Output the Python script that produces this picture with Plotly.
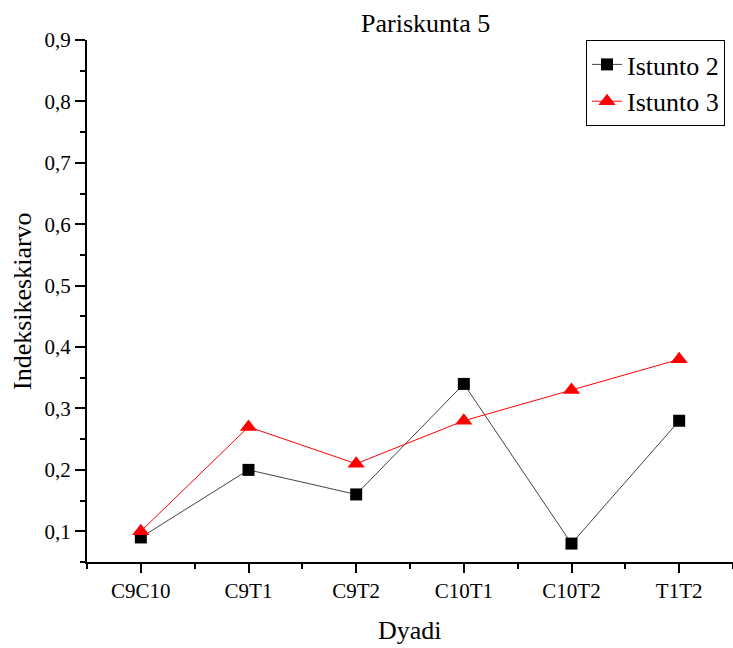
import plotly.graph_objects as go

categories = ["C9C10", "C9T1", "C9T2", "C10T1", "C10T2", "T1T2"]
istunto2 = [0.09, 0.20, 0.16, 0.34, 0.08, 0.28]
istunto3 = [0.10, 0.27, 0.21, 0.28, 0.33, 0.38]
yticks = [0.1, 0.2, 0.3, 0.4, 0.5, 0.6, 0.7, 0.8, 0.9]

FONT = "Liberation Serif"

fig = go.Figure()
fig.add_trace(go.Scatter(
    x=list(range(len(categories))), y=istunto2, name="Istunto 2",
    mode="lines+markers",
    line=dict(color="#444444", width=1),
    marker=dict(symbol="square", size=12, color="black"),
))
fig.add_trace(go.Scatter(
    x=list(range(len(categories))), y=istunto3, name="Istunto 3",
    mode="lines+markers",
    line=dict(color="red", width=1),
    marker=dict(symbol="triangle-up", size=15, color="red"),
))

fig.update_layout(
    width=733, height=648,
    margin=dict(l=87, r=0, t=40, b=86, autoexpand=False),
    paper_bgcolor="white", plot_bgcolor="white",
    separators=", ",
    font=dict(family=FONT, size=21, color="black"),
    showlegend=True,
    legend=dict(x=(725 - 87) / 646, y=1.0, xanchor="right", yanchor="top",
                bordercolor="black", borderwidth=1, bgcolor="white",
                font=dict(family=FONT, size=26, color="black"),
                itemwidth=30, tracegroupgap=0),
    xaxis=dict(
        range=[-0.5, 5.5], automargin=False,
        tickmode="array", tickvals=list(range(len(categories))), ticktext=categories,
        showline=True, linecolor="black", linewidth=2,
        ticks="outside", ticklen=9, tickwidth=2, tickcolor="black",
        minor=dict(tickvals=[-0.5, 0.5, 1.5, 2.5, 3.5, 4.5, 5.5], ticks="outside",
                   ticklen=5, tickwidth=2, tickcolor="black"),
        showgrid=False, zeroline=False,
        tickfont=dict(family=FONT, size=21, color="black"),
    ),
    yaxis=dict(
        range=[0.05, 0.9], automargin=False,
        tickmode="array", tickvals=yticks,
        ticktext=[f"{v:.1f}".replace(".", ",") for v in yticks],
        showline=True, linecolor="black", linewidth=2,
        ticks="outside", ticklen=10, tickwidth=2, tickcolor="black",
        minor=dict(tickvals=[0.05, 0.15, 0.25, 0.35, 0.45, 0.55, 0.65, 0.75, 0.85],
                   ticks="outside", ticklen=5, tickwidth=2, tickcolor="black"),
        showgrid=False, zeroline=False,
        tickfont=dict(family=FONT, size=21, color="black"),
    ),
    annotations=[
        dict(text="Pariskunta 5", xref="paper", yref="paper",
             x=(426 - 87) / 646, y=1 + (40 - 24) / 522, xanchor="center", yanchor="middle",
             showarrow=False, font=dict(family=FONT, size=26, color="black")),
        dict(text="Dyadi", xref="paper", yref="paper",
             x=0.5, y=-(630 - 562) / 522, xanchor="center", yanchor="middle",
             showarrow=False, font=dict(family=FONT, size=26, color="black")),
        dict(text="Indeksikeskiarvo", xref="paper", yref="paper", textangle=-90,
             x=(22 - 87) / 646, y=(562 - 301) / 522, xanchor="center", yanchor="middle",
             showarrow=False, font=dict(family=FONT, size=26, color="black")),
    ],
)

fig.write_html(
    "out.html",
    config={"displayModeBar": False},
    post_script="document.body.style.margin='0';document.body.style.overflow='hidden';",
)
